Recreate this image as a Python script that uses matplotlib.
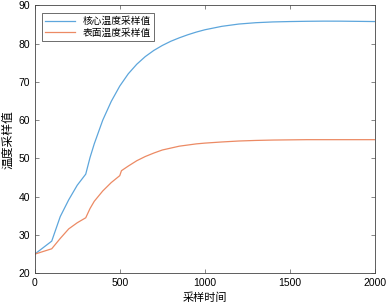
import numpy as np
import matplotlib.pyplot as plt

plt.rcParams['font.family'] = ['Liberation Sans', 'Noto Sans CJK SC', 'DejaVu Sans']

# core temperature samples
t_core = [0, 100, 150, 200, 250, 300, 325, 350, 400, 450, 500, 550, 600, 650,
          700, 750, 800, 850, 900, 950, 1000, 1100, 1200, 1300, 1400, 1500,
          1600, 1700, 1800, 1900, 2000]
core = [25, 28.4, 34.8, 39.2, 43.0, 45.9, 50.2, 53.8, 60.0, 64.9, 68.9, 72.1,
        74.6, 76.6, 78.2, 79.5, 80.6, 81.5, 82.3, 83.0, 83.6, 84.5, 85.1,
        85.45, 85.65, 85.75, 85.82, 85.86, 85.85, 85.8, 85.75]

# surface temperature samples
t_surf = [0, 100, 150, 200, 250, 300, 325, 350, 400, 450, 500, 510, 550, 600,
          650, 700, 750, 800, 850, 900, 950, 1000, 1100, 1200, 1300, 1400,
          1500, 1600, 1700, 1800, 1900, 2000]
surf = [25, 26.4, 29.1, 31.6, 33.2, 34.5, 36.9, 38.8, 41.5, 43.7, 45.5, 46.8,
        48.0, 49.4, 50.5, 51.4, 52.2, 52.7, 53.2, 53.5, 53.8, 54.0, 54.3,
        54.55, 54.7, 54.8, 54.85, 54.9, 54.9, 54.9, 54.9, 54.9]

fig = plt.figure(figsize=(3.87, 3.07), dpi=100)
ax = fig.add_axes([0.0897, 0.1098, 0.879, 0.873])

ax.plot(t_core, core, color='#5DA6DC', lw=0.9, label='核心温度采样值')
ax.plot(t_surf, surf, color='#EC8A64', lw=0.9, label='表面温度采样值')

ax.set_xlim(0, 2000)
ax.set_ylim(20, 90)
ax.set_xticks([0, 500, 1000, 1500, 2000])
ax.set_yticks([20, 30, 40, 50, 60, 70, 80, 90])
ax.tick_params(direction='in', top=True, right=True, labelsize=7.5,
               length=3, width=0.5, color='#555555', pad=3.5)
for s in ax.spines.values():
    s.set_linewidth(0.6)
    s.set_color('#444444')

ax.set_xlabel('采样时间', fontsize=8, labelpad=3)
ax.set_ylabel('温度采样值', fontsize=8.5, labelpad=2.5)

leg = ax.legend(loc='upper left', fontsize=7, frameon=True, fancybox=False,
                edgecolor='#333333', handlelength=3.0, borderpad=0.35,
                labelspacing=0.15, borderaxespad=0.75, framealpha=1)
leg.get_frame().set_linewidth(0.5)

fig.savefig('out.png', dpi=100)
